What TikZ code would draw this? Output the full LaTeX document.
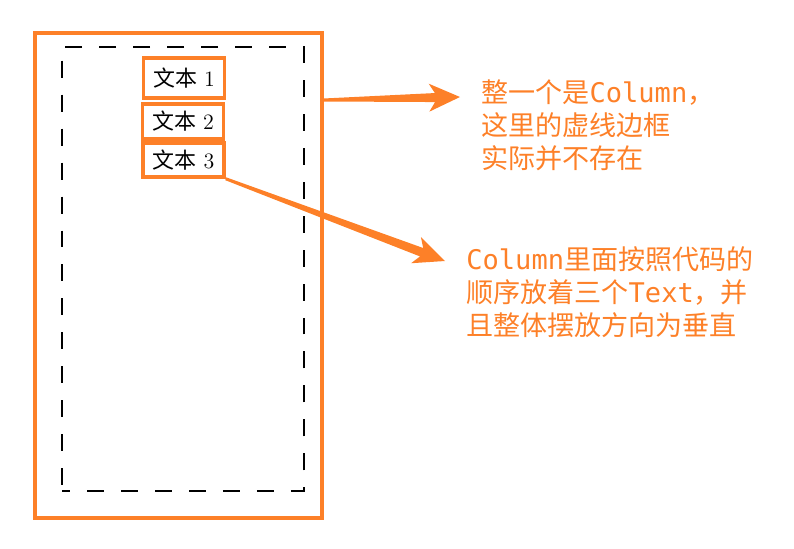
\documentclass[tikz,border=0pt]{standalone}
\usepackage{fontspec}
\usepackage{tikz}
\usetikzlibrary{arrows.meta,positioning,calc}
\setmonofont{DejaVu Sans Mono}
\newfontfamily\cjk{Noto Sans CJK SC}
\definecolor{MarkOrange}{RGB}{253,128,40}
\newcommand{\fatarrow}[2]{%
  \coordinate (hb) at ($(#2)!0.62cm!(#1)$);
  \coordinate (hj) at ($(#2)!0.50cm!(#1)$);
  \fill[MarkOrange] ($(#1)!0.03cm!90:(#2)$) -- ($(hj)!0.09cm!-90:(#1)$) -- ($(hb)!0.28cm!-90:(#1)$)
    -- (#2) -- ($(hb)!0.28cm!90:(#1)$) -- ($(hj)!0.09cm!90:(#1)$) -- ($(#1)!0.03cm!-90:(#2)$) -- cycle;}
\begin{document}
\begin{tikzpicture}[x=0.02cm, y=-0.02cm, font=\fontsize{12.5}{14}\selectfont,
    textbox/.style={draw=MarkOrange, line width=2pt, minimum width=1.62cm, inner sep=0pt},
    note/.style={MarkOrange, align=left, anchor=west, inner sep=0pt, font=\fontsize{15.4}{18.7}\selectfont}]
  \useasboundingbox (0,0) rectangle (794,548);
  \node[draw=MarkOrange, line width=1.8pt, minimum width=5.74cm, minimum height=9.7cm] (column) at (178.5,275.5) {};
  \node[draw=black, line width=1.1pt, dash pattern=on 0.34cm off 0.34cm, dash phase=0.18cm, minimum width=4.84cm, minimum height=8.9cm] (frame) at (183,269) {};
  \node[textbox, minimum height=0.8cm] (t1) at (184,78) {{\cjk 文本} 1};
  \node[textbox, minimum height=0.7cm] (t2) at (183,121.5) {{\cjk 文本} 2};
  \node[textbox, minimum height=0.68cm] (t3) at (183.5,160) {{\cjk 文本} 3};
  \node[note] (n1) at (481,125) {{\cjk 整一个是}\texttt{Column}{\cjk ，}\\{\cjk 这里的虚线边框}\\{\cjk 实际并不存在}};
  \node[note] (n2) at (466,292) {\texttt{Column}{\cjk 里面按照代码的}\\{\cjk 顺序放着三个}\texttt{Text}{\cjk ，并}\\{\cjk 且整体摆放方向为垂直}};
  \coordinate (a1) at (column.east |- 0,100);
  \coordinate (b1) at (460,97);
  \coordinate (b2) at (445,261);
  \fatarrow{a1}{b1}
  \fatarrow{t3.south east}{b2}
\end{tikzpicture}
\end{document}
